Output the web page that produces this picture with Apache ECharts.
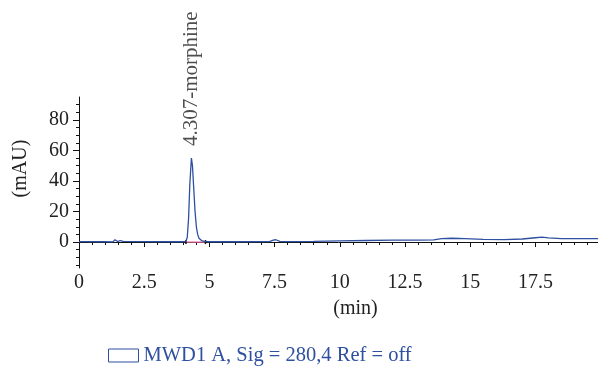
<!DOCTYPE html>
<html>
<head>
<meta charset="utf-8">
<script src="https://cdn.jsdelivr.net/npm/echarts@6/dist/echarts.min.js"></script>
<style>html,body{margin:0;padding:0;background:#fff}#c{width:598px;height:371px}</style>
</head>
<body>
<div id="c"></div>
<script>
var seriesName = 'MWD1 A, Sig = 280,4 Ref = off';
var peakLabel = '4.307-morphine';
var peakTime = 4.307;
var peakHeight = 55;
var timeMin = [0, 1.0, 1.3, 1.38, 1.43, 1.48, 1.53, 1.58, 1.7, 2.5, 3.5, 4.0, 4.1, 4.15, 4.2, 4.25, 4.31, 4.35, 4.4, 4.45, 4.5, 4.55, 4.6, 4.7, 4.8, 5.0, 6.0, 7.3, 7.45, 7.55, 7.7, 8.0, 9.0, 10.0, 11.0, 12.0, 13.0, 13.6, 13.9, 14.3, 14.8, 15.5, 16.3, 17.0, 17.5, 17.75, 18.0, 18.5, 19.9];
var signalMAU = [0.3, 0.2, 0.1, 1.5, 2.0, 0.3, 1.2, 1.0, 0.5, 0.3, 0.2, 0.2, 0.5, 3, 15, 38, 55, 50, 35, 20, 10, 5, 2.5, 1, 0.4, 0.2, 0.2, 0.3, 1.2, 1.5, 0.5, 0.3, 0.5, 0.8, 1.0, 1.2, 1.3, 1.4, 2.3, 2.5, 2.2, 1.7, 1.6, 2.0, 2.8, 3.2, 2.7, 2.2, 2.3];
var integStart = 4.1, integEnd = 4.85;
var xTicks = [0, 2.5, 5, 7.5, 10, 12.5, 15, 17.5];
var xMinorTicks = [];
for (var i = 0; i <= 39; i++) { var v = i * 0.5; if (v % 2.5 !== 0) xMinorTicks.push(v); }
var yTicks = [0, 20, 40, 60, 80];
var yMinorTicks = [-15, -10, -5, 5, 10, 15, 25, 30, 35, 45, 50, 55, 65, 70, 75, 85, 90];

var font = 'Liberation Serif';
var blue = '#2f50a0';
var fs = 20;
var data = timeMin.map(function (t, i) { return [t, signalMAU[i]]; });

var chart = echarts.init(document.getElementById('c'), null, { renderer: 'canvas' });
chart.setOption({
  animation: false,
  backgroundColor: '#fff',
  grid: { left: 79, right: 0, top: 97, bottom: 103 },
  legend: {
    left: 103, top: 340, itemWidth: 30, itemHeight: 13, itemGap: 10,
    data: [{ name: seriesName, icon: 'rect', itemStyle: { color: '#fff', borderColor: blue, borderWidth: 1 } }],
    textStyle: { fontFamily: font, fontSize: 20.5, color: '#2f50a0' }
  },
  xAxis: [
    { type: 'value', min: 0, max: 19.9, name: '(min)', nameLocation: 'middle', nameGap: 31,
      nameTextStyle: { fontFamily: font, fontSize: fs, color: '#222', padding: [0, 0, 0, 34] },
      axisLine: { lineStyle: { color: '#111', width: 1 } },
      axisTick: { show: true, inside: false, length: 5, customValues: xTicks, lineStyle: { color: '#111' } },
      axisLabel: { customValues: xTicks, fontFamily: font, fontSize: fs, color: '#222', margin: 5 },
      splitLine: { show: false } },
    { type: 'value', min: 0, max: 19.9, position: 'bottom', gridIndex: 0,
      axisLine: { show: false },
      axisTick: { show: true, length: 3, customValues: xMinorTicks, lineStyle: { color: '#111' } },
      axisLabel: { show: false }, splitLine: { show: false } }
  ],
  yAxis: [
    { type: 'value', min: -17, max: 95, name: '(mAU)', nameLocation: 'middle', nameGap: 48, nameRotate: 90,
      nameTextStyle: { fontFamily: font, fontSize: fs, color: '#222', padding: [0, 0, 0, 28] },
      axisLine: { show: true, lineStyle: { color: '#111', width: 1 } },
      axisTick: { show: true, length: 6, customValues: yTicks, lineStyle: { color: '#111' } },
      axisLabel: { customValues: yTicks, fontFamily: font, fontSize: fs, color: '#222', margin: 10 },
      splitLine: { show: false } },
    { type: 'value', min: -17, max: 95, position: 'left',
      axisLine: { show: false },
      axisTick: { show: true, length: 3, customValues: yMinorTicks, lineStyle: { color: '#111' } },
      axisLabel: { show: false }, splitLine: { show: false } }
  ],
  series: [
    { name: 'integration', type: 'line', data: [[integStart, 0], [integEnd, 0]],
      symbol: 'rect', symbolSize: [1.5, 4], itemStyle: { color: '#111' },
      lineStyle: { color: '#e0609a', width: 1.2 }, z: 1, silent: true },
    { name: seriesName, type: 'line', data: data, showSymbol: false, symbol: 'none',
      lineStyle: { color: blue, width: 1.3 }, itemStyle: { color: blue }, z: 2 },
    { name: 'label', type: 'scatter', data: [[peakTime, peakHeight]], symbolSize: 0,
      label: { show: true, formatter: peakLabel, position: 'top', distance: 12, rotate: 90,
        align: 'left', verticalAlign: 'middle', fontFamily: font, fontSize: 21, color: '#222' }, z: 3 }
  ]
});
</script>
</body>
</html>
